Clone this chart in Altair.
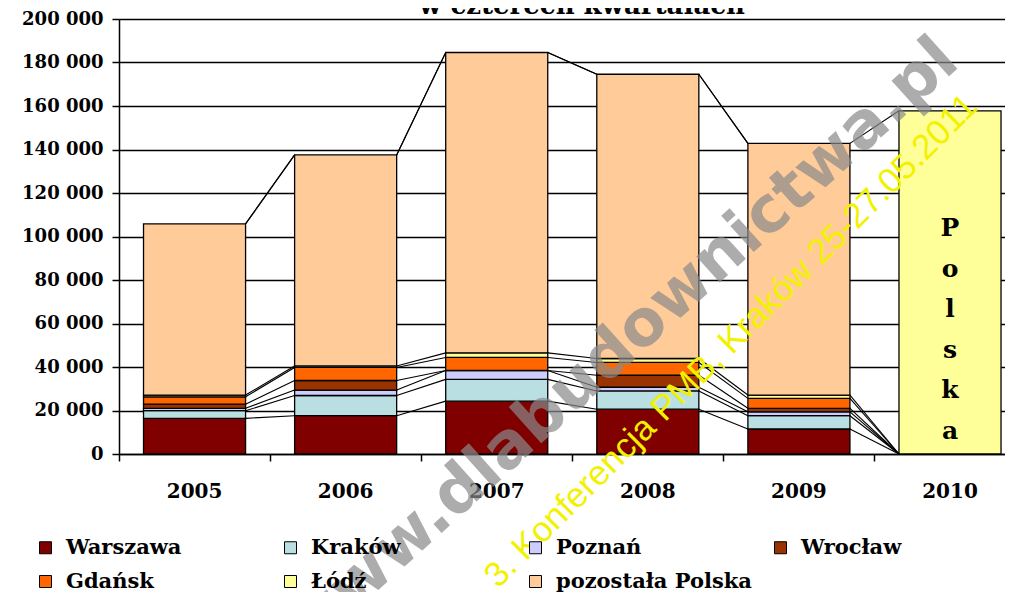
import altair as alt
import pandas as pd

years = [2005, 2006, 2007, 2008, 2009, 2010]
series = ["Warszawa", "Kraków", "Poznań", "Wrocław", "Gdańsk", "Łódź", "pozostała Polska", "Polska"]
warszawa = [16400, 17600, 24300, 20600, 11500, 0]
krakow = [3500, 9300, 10000, 8400, 6100, 0]
poznan = [1100, 2500, 4100, 1700, 1800, 0]
wroclaw = [1900, 4400, 0, 5500, 1600, 0]
gdansk = [3400, 6000, 6000, 5900, 4600, 0]
lodz = [800, 700, 2100, 1800, 1500, 0]
pozostala = [78700, 97000, 138100, 130700, 115700, None]
polska = [0, 0, 0, 0, 0, 157800]
colors = ["#800000", "#B9DFE2", "#CCCCFF", "#993300", "#FF6600", "#FFFF99", "#FFCC99", "#FFFF99"]
y_ticks = [0, 20000, 40000, 60000, 80000, 100000, 120000, 140000, 160000, 180000, 200000]
polska_letters = ["P", "o", "l", "s", "k", "a"]
title_text = "w czterech kwartałach"
wm1 = "www.dlabudownictwa.pl"
wm2 = "3. Konferencja PMB, Kraków 25-27.05.2011"

values = [warszawa, krakow, poznan, wroclaw, gdansk, lodz, pozostala, polska]
half = 0.3377

rows = []
tops = []
cum = [0] * len(years)
for k, name in enumerate(series):
    t = []
    for i, yr in enumerate(years):
        v = values[k][i]
        if v is None:
            t.append(None)
            continue
        rows.append({"series": name, "order": k, "year": yr, "xl": yr - half, "xr": yr + half,
                     "y0": cum[i], "y1": cum[i] + v, "value": v})
        cum[i] += v
        t.append(cum[i])
    tops.append(t)
bars_df = pd.DataFrame(rows)

# Excel-style series lines (skipped where a value is blank)
lines = []
for k, name in enumerate(series):
    for i in range(len(years) - 1):
        if tops[k][i] is None or tops[k][i + 1] is None:
            continue
        lines.append({"series": name, "xa": years[i] + half, "xb": years[i + 1] - half,
                      "ya": tops[k][i], "yb": tops[k][i + 1]})
lines_df = pd.DataFrame(lines)
years_df = pd.DataFrame({"year": years})

FONT = "DejaVu Serif"

xscale = alt.Scale(domain=[2004.5, 2010.364], nice=False, zero=False)
yscale = alt.Scale(domain=[0, 200000], nice=False)

xaxis = alt.Axis(values=[2004.5, 2005.5, 2006.5, 2007.5, 2008.5, 2009.5], labels=False, grid=False,
                 ticks=True, tickSize=7, tickColor="black", tickWidth=1.5, domainColor="black",
                 domainWidth=1.5, title=None)
yaxis = alt.Axis(values=y_ticks, grid=True, gridColor="black", gridWidth=1.5, gridOpacity=1,
                 tickSize=7, tickColor="black", tickWidth=1.5, domainColor="black", domainWidth=1.5,
                 labelFont=FONT, labelFontWeight="bold", labelFontSize=18, labelColor="black",
                 labelPadding=9, title=None,
                 labelExpr="datum.value == 0 ? '0' : format(datum.value / 1000, 'd') + ' 000'")

bars = alt.Chart(bars_df).transform_filter("datum.value > 0").mark_bar(
    stroke="black", strokeWidth=1.3
).encode(
    x=alt.X("xl:Q", scale=xscale, axis=xaxis),
    x2="xr:Q",
    y=alt.Y("y0:Q", scale=yscale, axis=yaxis),
    y2="y1:Q",
    color=alt.Color("series:N", scale=alt.Scale(domain=series, range=colors),
                    legend=alt.Legend(values=series[:7], title=None, orient="none",
                                      direction="horizontal",
                                      legendX=-84, legendY=518, columns=4, gridAlign="all",
                                      columnPadding=18, rowPadding=12, symbolType="square",
                                      symbolSize=144, symbolStrokeColor="black", symbolStrokeWidth=1,
                                      labelFont=FONT, labelFontWeight="bold", labelFontSize=21,
                                      labelColor="black", labelOffset=10, padding=0,
                                      labelLimit=400)),
)

series_lines = alt.Chart(lines_df).mark_rule(color="black", strokeWidth=1.1).encode(
    x="xa:Q", x2="xb:Q", y="ya:Q", y2="yb:Q"
)

year_labels = alt.Chart(years_df).mark_text(
    font=FONT, fontWeight="bold", fontSize=20, color="black", baseline="middle"
).encode(x="year:Q", y=alt.value(473), text=alt.Text("year:N"))

polska_text = alt.Chart(years_df).transform_filter("datum.year == 2010").mark_text(
    text=polska_letters, font=FONT, fontWeight="bold", fontSize=25, color="black",
    lineHeight=40.5, baseline="middle"
).encode(x="year:Q", y=alt.value(209))

one = pd.DataFrame({"a": [1]})
title = alt.Chart(one).mark_text(
    text=title_text, font=FONT, fontWeight="bold", fontSize=26, color="black", baseline="alphabetic"
).encode(x=alt.value(463), y=alt.value(-5))

wmark1 = alt.Chart(one).mark_text(
    text=wm1, font="DejaVu Sans", fontWeight="bold", fontSize=64, color="#8a8a8a", opacity=0.7,
    angle=318, baseline="middle"
).encode(x=alt.value(503), y=alt.value(326))

wmark2 = alt.Chart(one).mark_text(
    text=wm2, font="Liberation Sans", fontSize=35, color="#F2F200", angle=315, baseline="middle"
).encode(x=alt.value(612), y=alt.value(322))

chart = alt.layer(bars, series_lines, polska_text, year_labels, title, wmark1, wmark2).properties(
    width=886, height=435,
    padding={"left": 111, "top": 11, "right": 0, "bottom": 138},
    autosize="none",
).configure_view(stroke=None).configure(background="white")

chart.save("out.html", embed_options={"renderer": "svg", "actions": False})
